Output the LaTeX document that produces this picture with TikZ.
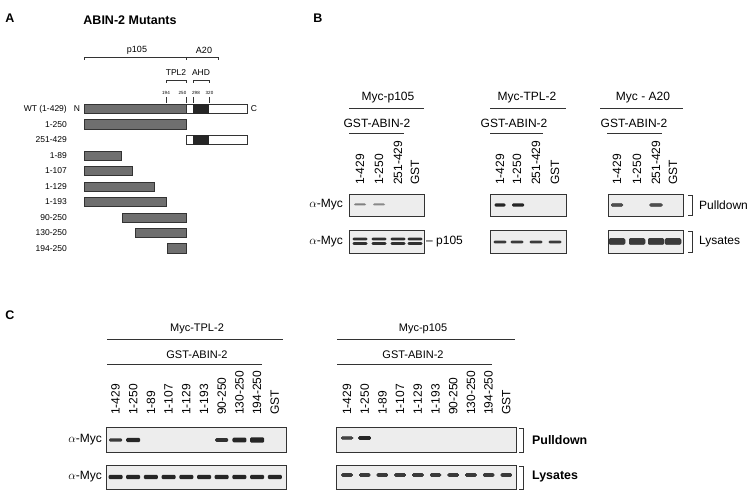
\documentclass[tikz,border=0pt]{standalone}
\usepackage{fontspec}
\setmainfont{Liberation Sans}
\usetikzlibrary{positioning}
\definecolor{BarGray}{HTML}{6F6F6F}
\definecolor{BlotBg}{HTML}{EDEDED}
\definecolor{BandDark}{HTML}{262626}
\definecolor{RuleDark}{HTML}{333333}
\newcommand{\fsz}[1]{\fontsize{#1}{#1}\selectfont}
% band: x, y, width, height, strength (percent of BandDark)
\newcommand{\wbband}[5]{\fill[BandDark!#5!BlotBg,rounded corners=1.2pt]
  ({#1-#3/2},{#2-#4/2}) rectangle ({#1+#3/2},{#2+#4/2});}

\begin{document}
\begin{tikzpicture}[x=1pt,y=-1pt,
  panel/.style={font=\fsz{12.5}\bfseries,inner sep=0},
  txt/.style={font=\fsz{12},inner sep=0},
  txtc/.style={font=\fsz{11},inner sep=0},
  small/.style={font=\fsz{8.5},inner sep=0},
  tiny/.style={font=\fsz{4.5},inner sep=0},
  lanelbl/.style={font=\fsz{12},rotate=90,anchor=west,inner sep=0},
  bar/.style={draw=RuleDark,line width=0.6pt,fill=BarGray},
  blot/.style={draw=RuleDark,line width=0.9pt,fill=BlotBg},
  rule/.style={draw=RuleDark,line width=0.8pt},
  brk/.style={draw=RuleDark,line width=0.6pt}
]
\useasboundingbox (0,0) rectangle (753,494);

% ---------------- panel A ----------------
\node[panel] (lblA) at (10,18) {A};
\node[panel] (titleA) at (130,20) {ABIN-2 Mutants};
\draw[brk] (84,60) -- (84,57) -- (218,57) -- (218,60);
\draw[brk] (186,57) -- (186,60);
\node[small,font=\fsz{9}] (p105A) at (137,50) {p105};
\node[small,font=\fsz{9}] (a20A) at (204,50) {A20};
\draw[brk] (166,83) -- (166,80) -- (186,80) -- (186,83);
\draw[brk] (193,83) -- (193,80) -- (209,80) -- (209,83);
\node[small] (tplA) at (176,73) {TPL2};
\node[small] (ahdA) at (201,73) {AHD};
\foreach \x/\n/\p in {166/194/166,186/250/182.5,193/298/196,209/320/209.5}{
  \node[tiny] (res\n) at (\p,92.5) {\n};
  \draw[brk] (\x,97) -- (\x,103.5);
}
% full length
\draw[bar] (84,104.3) rectangle (186,113.7);
\draw[brk,fill=white] (186,104.3) rectangle (247,113.7);
\fill[BandDark] (193,104.3) rectangle (209,113.7);
\node[small] (nterm) at (77,109) {N};
\node[small] (cterm) at (254,109) {C};
\node[small,anchor=east] (wt) at (67,109) {WT (1-429)};
% C-terminal fragment
\draw[brk,fill=white] (186,135.3) rectangle (247,144.7);
\fill[BandDark] (193,135.3) rectangle (209,144.7);
\node[small,anchor=east] (m251) at (67,140) {251-429};
% N-terminal fragments
\foreach \n/\y/\xa/\xb in {1-250/124.5/84/186, 1-89/156/84/121, 1-107/171/84/132,
    1-129/187/84/154, 1-193/202/84/166, 90-250/218/122/186,
    130-250/233/135/186, 194-250/248.5/167/186}{
  \draw[bar] (\xa,{\y-4.7}) rectangle (\xb,{\y+4.7});
  \node[small,anchor=east] (m\n) at (67,\y) {\n};
}

% ---------------- panel B ----------------
\node[panel] (lblB) at (318,18) {B};
% headers
\node[txt] (hp105) at (388,98) {Myc-p105};
\draw[rule] (349,108) -- (424,108);
\node[txt] (gp105) at (377,123) {GST-ABIN-2};
\draw[rule] (349,133) -- (404,133);
\node[txt] (htpl) at (527,98) {Myc-TPL-2};
\draw[rule] (490,108) -- (566,108);
\node[txt] (gtpl) at (514,123) {GST-ABIN-2};
\draw[rule] (490,133) -- (543,133);
\node[txt] (ha20) at (643,98) {Myc - A20};
\draw[rule] (600,108) -- (683,108);
\node[txt] (ga20) at (634,123) {GST-ABIN-2};
\draw[rule] (607,133) -- (662,133);
% lanes
\foreach \x/\t in {360/1-429,379/1-250,398/251-429,415/GST,
                   500/1-429,517/1-250,536/251-429,555/GST,
                   617/1-429,637/1-250,656/251-429,673/GST}
  \node[lanelbl] (lb\x) at (\x,185) {\t};
% blots
\foreach \xa/\xb in {349/424,490/566,608/683}{
  \draw[blot] (\xa,194) rectangle (\xb,216);
  \draw[blot] (\xa,230) rectangle (\xb,253);
}
\node[txt,anchor=east] (abpB) at (343,205) {$\alpha$-Myc};
\node[txt,anchor=east] (ablB) at (343,242) {$\alpha$-Myc};
\node[txt,anchor=west] (p105B) at (426,241.5) {– p105};
% p105 blot bands
\wbband{360}{204.5}{12}{2}{55}
\wbband{379}{204.5}{12}{2}{50}
\foreach \x in {360,379,398,415}{
  \wbband{\x}{239}{15}{2.6}{95}
  \wbband{\x}{243.5}{15}{2.6}{95}
}
% TPL-2 blot bands
\wbband{500}{205}{11}{3.2}{100}
\wbband{518}{205}{12}{3.4}{100}
\foreach \x in {500,517,536,555}
  \wbband{\x}{242}{13}{2.6}{90}
% A20 blot bands
\wbband{617}{205}{12}{2.6}{80}
\wbband{656}{205}{13}{2.6}{80}
\foreach \x in {617,637,656,673}
  \wbband{\x}{241.5}{16}{6}{90}
% brackets
\draw[brk] (688,195) -- (692,195) -- (692,215) -- (688,215);
\draw[brk] (688,231) -- (692,231) -- (692,252) -- (688,252);
\node[txt,anchor=west] (pullB) at (699,205) {Pulldown};
\node[txt,anchor=west] (lysB) at (699,242) {Lysates};

% ---------------- panel C ----------------
\node[panel] (lblC) at (10,315) {C};
\node[txtc] (htplC) at (197,329) {Myc-TPL-2};
\draw[rule] (107,339) -- (283,339);
\node[txtc] (gtplC) at (197,355) {GST-ABIN-2};
\draw[rule] (107,364) -- (262,364);
\node[txtc] (hp105C) at (423,328.5) {Myc-p105};
\draw[rule] (337,339) -- (515,339);
\node[txtc] (gp105C) at (413,355) {GST-ABIN-2};
\draw[rule] (337,364) -- (492,364);
\foreach \t [count=\i from 0] in {1-429,1-250,1-89,1-107,1-129,1-193,90-250,130-250,194-250,GST}{
  \node[lanelbl] (lt\i) at ({115.5+17.7*\i},415) {\t};
  \node[lanelbl] (lp\i) at ({347+17.7*\i},415) {\t};
}
\foreach \xa/\xb in {106/286,336/516}{
  \draw[blot] (\xa,427) rectangle (\xb,452);
  \draw[blot] (\xa,465) rectangle (\xb,489);
}
\node[txt,anchor=east] (abpC) at (102,440) {$\alpha$-Myc};
\node[txt,anchor=east] (ablC) at (102,477) {$\alpha$-Myc};
% TPL-2 bands
\wbband{115.5}{440}{13}{3.4}{90}
\wbband{133.2}{440}{14}{4.2}{100}
\wbband{221.7}{440}{13}{3.6}{95}
\wbband{239.4}{440}{14}{4.6}{100}
\wbband{257.1}{440}{14}{5.4}{100}
\foreach \i in {0,...,9}
  \wbband{115.5+17.7*\i}{477}{14}{4.4}{100}
% p105 bands
\wbband{347}{438}{12}{2.2}{85}
\wbband{364.7}{438}{12}{3}{100}
\foreach \i in {0,...,9}
  \wbband{347+17.7*\i}{475}{11}{2.8}{90}
% brackets
\draw[brk] (519,428) -- (523,428) -- (523,452) -- (519,452);
\draw[brk] (519,466) -- (523,466) -- (523,489) -- (519,489);
\node[txt,font=\fsz{12.4}\bfseries,anchor=west] (pullC) at (532,440) {Pulldown};
\node[txt,font=\fsz{12.4}\bfseries,anchor=west] (lysC) at (532,477) {Lysates};
\end{tikzpicture}
\end{document}
